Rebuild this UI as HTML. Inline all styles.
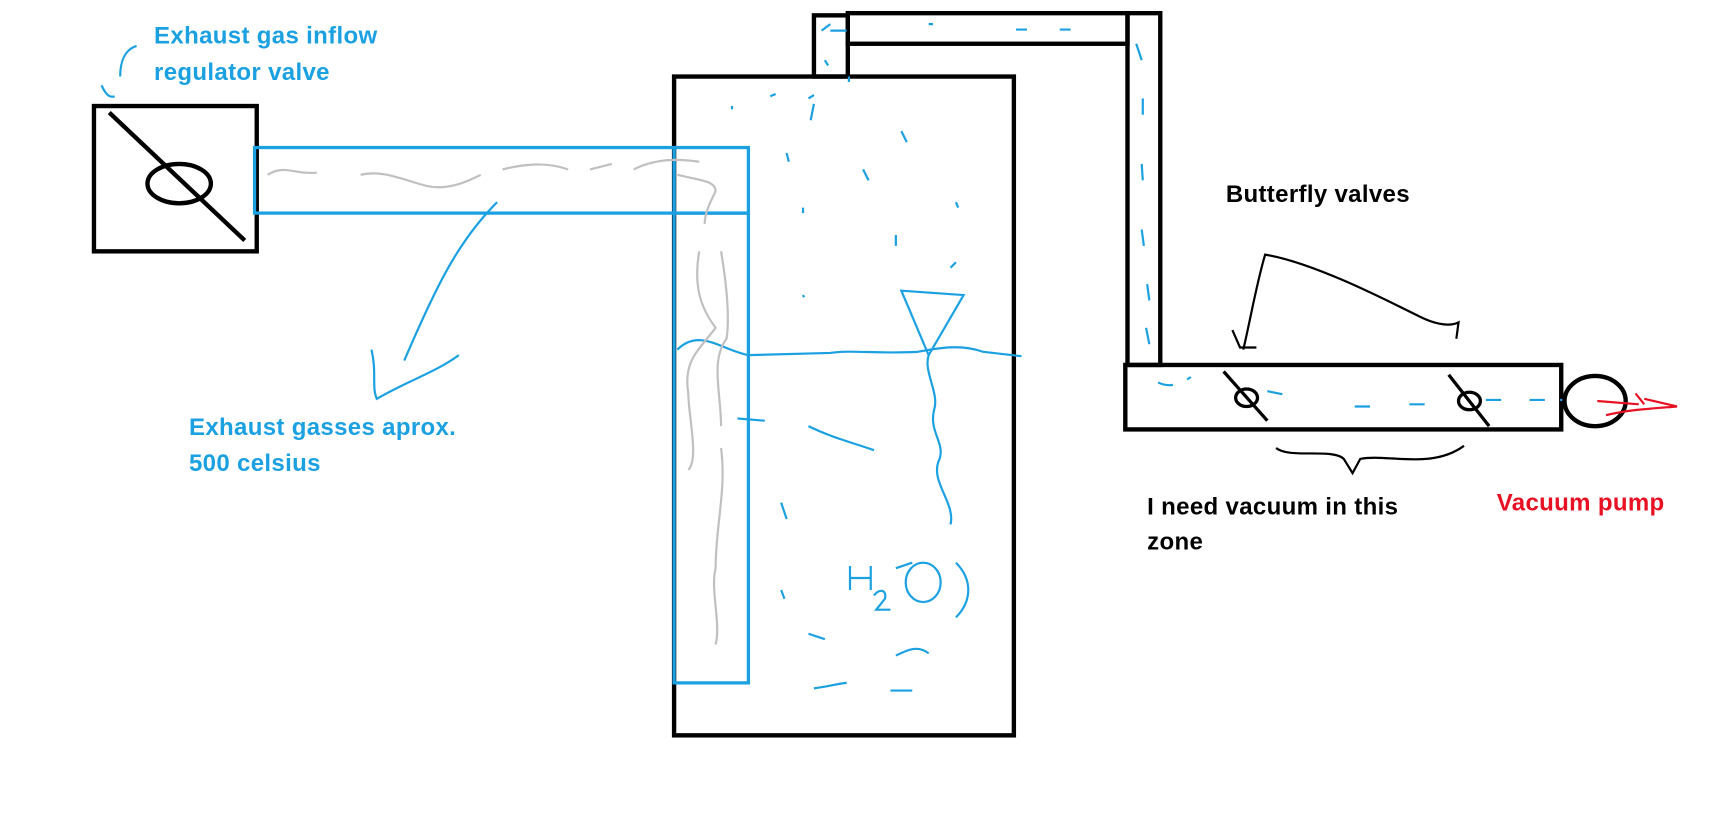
<!DOCTYPE html>
<html><head><style>
html,body{margin:0;padding:0;background:#fff;width:1712px;height:837px;overflow:hidden}
svg{display:block}
text{font-family:"Liberation Sans",sans-serif;font-weight:bold;font-size:22px;letter-spacing:0.3px}
</style></head><body>
<svg width="1712" height="837" viewBox="0 0 1567 766" xmlns="http://www.w3.org/2000/svg">
<rect width="1567" height="766" fill="#fff"/>
<g fill="none" stroke="#000" stroke-width="4">
<rect x="86" y="97" width="149" height="133"/>
<line x1="100" y1="103" x2="224" y2="220"/>
<ellipse cx="164" cy="168" rx="29" ry="18"/>
<rect x="617" y="70" width="311" height="603"/>
<rect x="745" y="14" width="31" height="56"/>
<rect x="776" y="12" width="256" height="28"/>
<rect x="1032" y="12" width="30" height="322"/>
<rect x="1030" y="334" width="399" height="59"/>
<ellipse cx="1460" cy="367" rx="28" ry="23"/>
<ellipse cx="1141" cy="364" rx="10" ry="8" stroke-width="3"/>
<line x1="1120" y1="340" x2="1160" y2="385" stroke-width="3"/>
<ellipse cx="1345" cy="367" rx="10" ry="8" stroke-width="3"/>
<line x1="1326" y1="343" x2="1363" y2="390" stroke-width="3"/>
</g>
<g fill="none" stroke="#000" stroke-width="2">
<path d="M1138 320 C1145 290 1150 260 1158 233 C1200 240 1260 270 1300 290 C1310 295 1325 300 1335 295 L1333 310"/>
<path d="M1128 302 L1135 318 L1150 318"/>
<path d="M1168 410 C1180 420 1220 410 1230 420 L1238 433 L1245 420 C1270 415 1310 430 1340 408"/>
</g>
<g fill="none" stroke="#1ba1e2" stroke-width="3">
<rect x="233" y="135" width="384" height="60"/>
<rect x="617" y="135" width="68" height="60"/>
<rect x="617" y="195" width="68" height="430"/>
</g>
<g fill="none" stroke="#1ba1e2" stroke-width="2">
<path d="M620 320 C640 300 660 320 685 325 L760 323 C780 320 800 324 840 322 C860 318 880 315 900 322 L935 326"/>
<path d="M825 266 L882 270 L850 325 Z"/>
<path d="M850 325 C845 340 860 360 855 375 C850 395 865 405 860 420 C850 440 875 460 870 480"/>
<path d="M110 70 C110 55 115 45 125 42 M93 78 C96 85 100 90 105 88"/>
<path d="M455 185 C420 220 400 260 370 330 M340 320 C345 340 340 355 345 365 C370 350 400 340 420 325"/>
<path d="M740 390 C760 400 780 405 800 412 M675 383 L700 385 M715 460 L720 475 M740 580 L755 585 M745 630 C760 628 770 625 775 625 M815 632 L835 632 M820 600 C830 595 840 590 850 598 M820 520 L835 515 M715 540 L718 548"/>
<path d="M1060 350 C1070 355 1080 352 1090 345 M1160 358 L1180 362 M1240 372 L1265 372 M1290 370 L1310 370 M1360 366 L1380 366 M1400 366 L1430 366" stroke-dasharray="14 14"/>
<path d="M760 28 L775 28 M850 22 L854 22 M930 27 L940 27 M970 27 L980 27 M1040 40 L1045 55 M1046 90 L1046 105 M1045 150 L1046 165 M1045 210 L1047 225 M1050 260 L1052 275 M1049 300 L1052 315 M752 28 L760 22 M755 55 L758 60"/>
<path d="M720 140 L722 148 M735 190 L735 195 M745 95 L742 110 M790 155 L795 165 M825 120 L830 130 M820 215 L820 225 M875 185 L877 190 M870 245 L875 240 M735 270 L736 272 M670 97 L670 100 M705 88 L710 86 M740 90 L745 87 M777 70 L777 75"/>
<path d="M778 518 L778 540 M797 518 L797 540 M778 529 L797 529 M800 545 C805 538 812 540 810 548 L802 558 L815 558"/>
<ellipse cx="845" cy="533" rx="16" ry="18"/>
<path d="M875 515 C890 530 890 550 875 565"/>
</g>
<g fill="none" stroke="#c0c0c0" stroke-width="2">
<path d="M245 160 C260 150 270 160 290 158 M330 160 C350 155 370 165 390 170 C410 175 430 165 440 160 M460 155 C480 150 500 148 520 155 M540 155 L560 150 M580 155 C600 145 620 145 640 148 M620 160 C640 165 655 165 655 175 C650 185 645 195 645 205"/>
<path d="M640 230 C635 260 640 280 655 300 C640 320 625 330 630 360 C630 380 640 420 630 430 M660 230 C665 260 668 290 665 310 C650 330 660 360 660 390"/>
<path d="M660 410 C665 450 655 480 655 520 C650 540 660 570 655 590"/>
</g>
<path d="M1462 367 L1500 370 M1470 380 C1490 375 1510 374 1535 372 L1505 365 M1505 370 L1497 360" fill="none" stroke="#e81123" stroke-width="2"/>
<g fill="#1ba1e2">
<text x="141" y="40">Exhaust gas inflow</text>
<text x="141" y="73">regulator valve</text>
<text x="173" y="398">Exhaust gasses aprox.</text>
<text x="173" y="431">500 celsius</text>
</g>
<text x="1122" y="185" fill="#000">Butterfly valves</text>
<text x="1050" y="471" fill="#000">I need vacuum in this</text>
<text x="1050" y="503" fill="#000">zone</text>
<text x="1370" y="467" fill="#e81123">Vacuum pump</text>
</svg>
</body></html>
